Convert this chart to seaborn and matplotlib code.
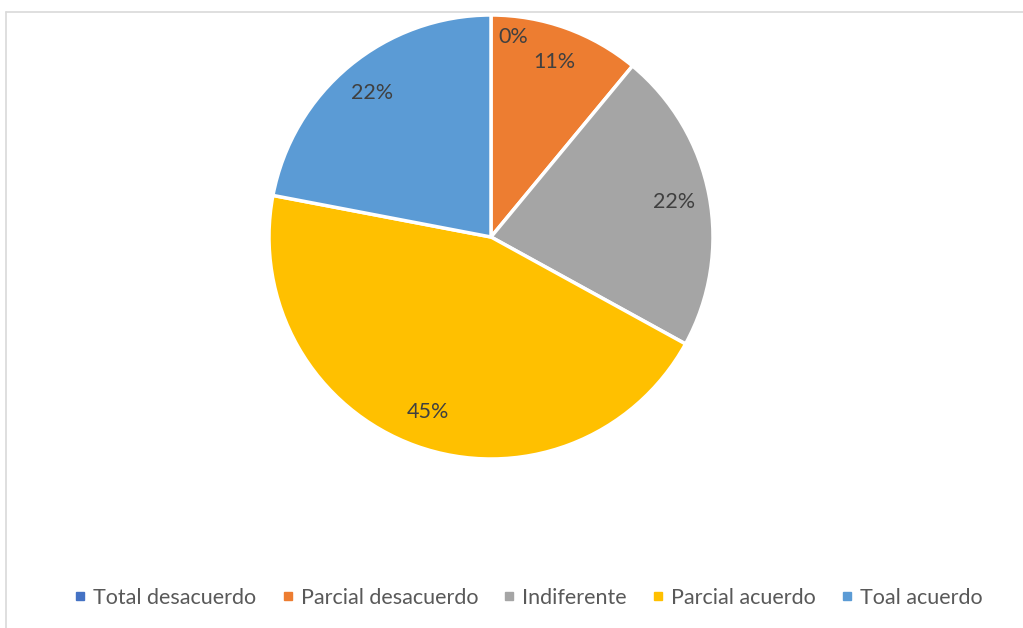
import matplotlib.pyplot as plt
import seaborn as sns
from matplotlib.lines import Line2D

categorias = ["Total desacuerdo", "Parcial desacuerdo", "Indiferente", "Parcial acuerdo", "Toal acuerdo"]
porcentajes = [0, 11, 22, 45, 22]
colores = ["#4472C4", "#ED7D31", "#A5A5A5", "#FFC000", "#5B9BD5"]

sns.set_style("white")
plt.rcParams["font.family"] = ["Lato", "DejaVu Sans"]

W, H = 1023, 628
fig = plt.figure(figsize=(W / 100, H / 100), dpi=100)

# marco gris claro del gráfico (como en Excel)
fig.add_artist(Line2D([6 / W, 1], [1 - 12 / H, 1 - 12 / H], color="#D9D9D9", lw=1.2))
fig.add_artist(Line2D([6 / W, 6 / W], [0, 1 - 12 / H], color="#D9D9D9", lw=1.2))

cx, cy, r = 491, 237, 222
ax = fig.add_axes([(cx - r) / W, (H - cy - r) / H, 2 * r / W, 2 * r / H])

wedges, textos, pcts = ax.pie(
    porcentajes,
    colors=colores,
    startangle=90,
    counterclock=False,
    autopct=lambda p: f"{p:.0f}%",
    pctdistance=0.84,
    wedgeprops={"edgecolor": "white", "linewidth": 2.5},
    textprops={"fontsize": 15.5, "color": "#404040"},
)
ax.set_xlim(-1, 1)
ax.set_ylim(-1, 1)
ax.set_aspect("equal")

# la etiqueta del 0% se desplaza un poco para no tapar a la del 11%
pcts[0].set_position((0.10, 0.90))

handles = [Line2D([], [], marker="s", color=c, linestyle="", markersize=6) for c in colores]
fig.legend(
    handles,
    categorias,
    loc="center",
    bbox_to_anchor=(526 / W, (H - 598) / H),
    ncol=5,
    frameon=False,
    fontsize=15.5,
    handletextpad=0.1,
    columnspacing=0.95,
    labelcolor="#595959",
    handlelength=1.0,
)

fig.savefig("out.png", dpi=100, facecolor="white")
